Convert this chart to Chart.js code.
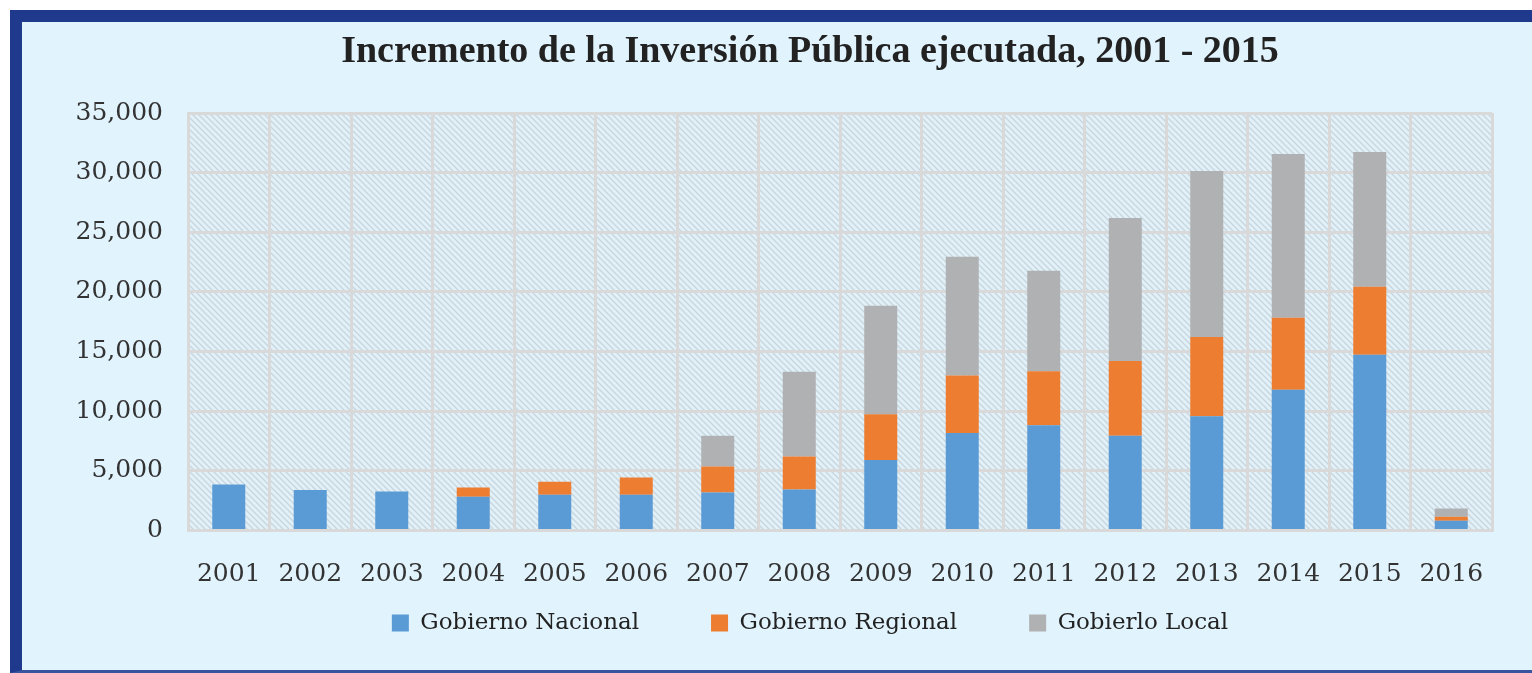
<!DOCTYPE html>
<html><head><meta charset="utf-8">
<script src="https://cdn.jsdelivr.net/npm/chart.js@4/dist/chart.umd.min.js"></script>
<style>
html,body{margin:0;padding:0;background:#fff;overflow:hidden;width:1532px;height:673px}
#frame{position:absolute;left:10px;top:10px;width:1540px;height:648px;background:#e1f3fd;border-left:12px solid #1f3a8c;border-top:12px solid #1f3a8c;border-bottom:3px solid #3a55a0;}
#wrap{position:absolute;left:0;top:0;width:1532px;height:673px}
</style></head>
<body>
<div id="frame"></div>
<div id="wrap"><canvas id="c" width="1532" height="673"></canvas></div>
<script>
const years = ['2001','2002','2003','2004','2005','2006','2007','2008','2009','2010','2011','2012','2013','2014','2015','2016'];
const gobiernoNacional = [3850,3400,3270,2820,2990,2990,3180,3430,5920,8180,8820,7950,9570,11800,14740,810];
const gobiernoRegional = [0,0,0,780,1090,1450,2180,2770,3820,4820,4520,6250,6650,6030,5690,340];
const gobiernoLocal = [0,0,0,0,0,0,2590,7100,9100,9940,8430,12000,13920,13740,11300,690];
const yMin = 0, yMax = 35000, yStep = 5000;
const chartTitle = 'Incremento de la Inversión Pública ejecutada, 2001 - 2015';
const seriesNames = ['Gobierno Nacional','Gobierno Regional','Gobierlo Local'];

const hatch = {
  id: 'hatch',
  afterLayout(chart) {
    // widen label clipping boxes so tick labels may overflow the squeezed scale boxes
    chart.scales.y.left = 0;
    chart.scales.x.bottom = chart.height;
  },
  beforeDraw(chart) {
    const {ctx, chartArea: a} = chart;
    const s = 6;
    const p = document.createElement('canvas');
    p.width = s; p.height = s;
    const c = p.getContext('2d');
    c.fillStyle = '#e2f0f8';
    c.fillRect(0, 0, s, s);
    c.strokeStyle = '#c7d5de';
    c.lineWidth = 1.3;
    c.beginPath();
    c.moveTo(-1, -1); c.lineTo(s + 1, s + 1);
    c.moveTo(-1, s - 1); c.lineTo(1, s + 1);
    c.moveTo(s - 1, -1); c.lineTo(s + 1, 1);
    c.stroke();
    ctx.save();
    ctx.fillStyle = ctx.createPattern(p, 'repeat');
    ctx.fillRect(a.left, a.top, a.right - a.left, a.bottom - a.top);
    ctx.restore();
  }
};

const serif = '"DejaVu Serif", "Liberation Serif", serif';
new Chart(document.getElementById('c'), {
  type: 'bar',
  data: {
    labels: years,
    datasets: [
      {label: seriesNames[0], data: gobiernoNacional, backgroundColor: '#5b9bd5'},
      {label: seriesNames[1], data: gobiernoRegional, backgroundColor: '#ed7d31'},
      {label: seriesNames[2], data: gobiernoLocal, backgroundColor: '#b0b1b3'}
    ]
  },
  options: {
    responsive: false,
    animation: false,
    devicePixelRatio: 1,
    layout: {padding: {left: 128, right: 40, top: 22, bottom: 28.5}},
    datasets: {bar: {categoryPercentage: 1, barPercentage: 0.405, borderWidth: 0}},
    plugins: {
      tooltip: {enabled: false},
      title: {
        display: true, text: chartTitle, color: '#222',
        font: {family: '"Liberation Serif", serif', size: 38, weight: 'bold'},
        padding: {top: 7, bottom: 38.4}
      },
      legend: {
        position: 'bottom',
        labels: {boxWidth: 17, boxHeight: 17, padding: 72, color: '#222',
          font: {family: serif, size: 23}}
      }
    },
    scales: {
      x: {
        stacked: true,
        afterFit(s) { s.height = 9; },
        grid: {color: '#d9d9d9', lineWidth: 3, offset: true, drawTicks: false},
        border: {color: '#d9d9d9', width: 3},
        ticks: {color: '#333', padding: 29, font: {family: serif, size: 25}, maxRotation: 0}
      },
      y: {
        stacked: true, min: yMin, max: yMax,
        afterFit(s) { s.width = 60; },
        grid: {color: '#d9d9d9', lineWidth: 3, drawTicks: false},
        border: {color: '#d9d9d9', width: 3},
        ticks: {stepSize: yStep, color: '#333', padding: 25, font: {family: serif, size: 25},
          callback: v => v.toLocaleString('en-US')}
      }
    }
  },
  plugins: [hatch]
});
</script>
</body></html>
